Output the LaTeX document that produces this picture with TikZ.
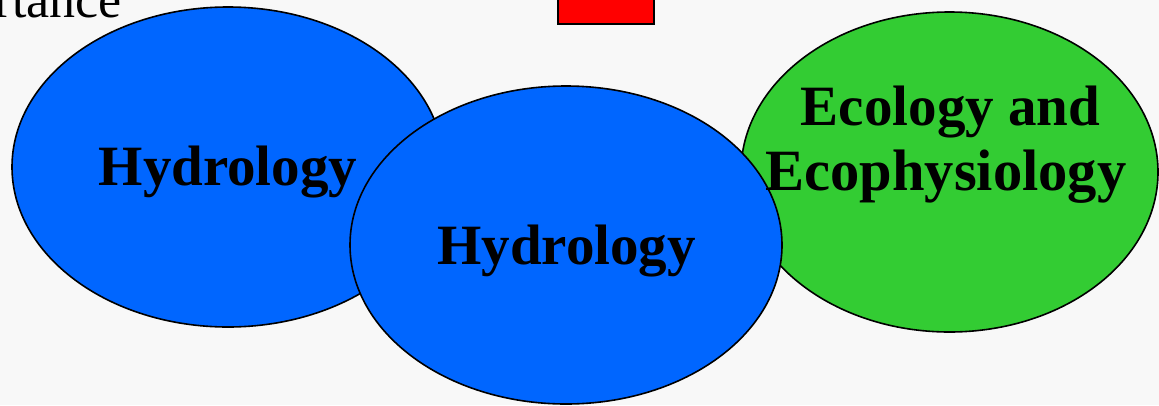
\documentclass[tikz,border=0pt]{standalone}
\usepackage{fontspec}
\setmainfont{Liberation Serif}
\usetikzlibrary{shapes.geometric}
\definecolor{bgc}{HTML}{F8F8F8}
\definecolor{bluec}{HTML}{0066FF}
\definecolor{greenc}{HTML}{33CC33}
\definecolor{redc}{HTML}{FF0000}
\begin{document}
\begin{tikzpicture}[x=1pt,y=-1pt,
  blob/.style={ellipse,draw=black,line width=1.6pt,inner sep=0pt},
  lbl/.style={font=\fontsize{57}{65}\selectfont\bfseries,anchor=base,inner sep=0pt}]
\useasboundingbox (0,0) rectangle (1159,405);
\fill[bgc] (0,0) rectangle (1159,405);
\clip (0,0) rectangle (1159,405);
\node[font=\fontsize{52}{55}\selectfont, anchor=base east, inner sep=0pt] (imp) at (122,17) {Importance};
\node[draw=black, fill=redc, line width=1.8pt, minimum width=96pt, minimum height=40pt, anchor=south west, inner sep=0pt] (box) at (557,25) {};
\node[blob, fill=bluec, minimum width=432pt, minimum height=320pt] (left) at (228,167) {};
\node[blob, fill=greenc, minimum width=417pt, minimum height=320pt] (eco) at (949.5,172) {};
\node[blob, fill=bluec, minimum width=432pt, minimum height=318pt] (mid) at (566,245) {};
\node[lbl] (t1) at (228,185.5) {Hydrology};
\node[lbl] (t2) at (566.5,264) {Hydrology};
\node[lbl] (t3) at (950.5,125) {Ecology and};
\node[lbl, font=\fontsize{58.5}{65}\selectfont\bfseries] (t4) at (946,190) {Ecophysiology};
\end{tikzpicture}
\end{document}
